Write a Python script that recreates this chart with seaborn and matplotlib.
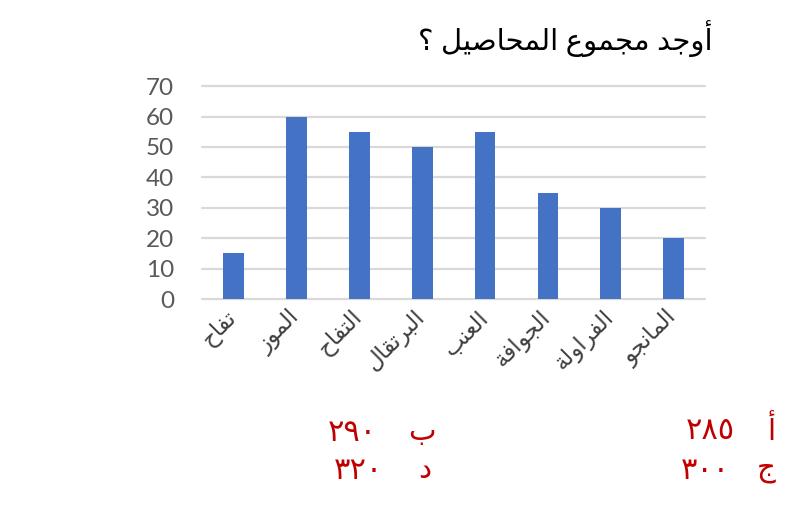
import matplotlib
matplotlib.use('Agg')
import matplotlib.pyplot as plt
import seaborn as sns
import pandas as pd

# chart data
crops = ['تفاح', 'الموز', 'التفاح', 'البرتقال', 'العنب', 'الجوافة', 'الفراولة', 'المانجو']
amounts = [15, 60, 55, 50, 55, 35, 30, 20]
y_ticks = [0, 10, 20, 30, 40, 50, 60, 70]
title = 'أوجد مجموع المحاصيل ؟'
choice_letters = ['أ', 'ب', 'ج', 'د']
choice_values = ['٢٨٥', '٢٩٠', '٣٠٠', '٣٢٠']

# matplotlib has no arabic shaping, so map letters to presentation forms
seq = 'ءآأؤإئابةتثجحخدذرزسشصضطظعغفقكلمنهوىي'
two_forms = 'آأؤإاةدذرزوى'
forms = {}
code = 0xFE80
for ch in seq:
    n = 1 if ch == 'ء' else (2 if ch in two_forms else 4)
    forms[ch] = (code, n)
    code += n
lam_alef = {'آ': 0xFEF5, 'أ': 0xFEF7, 'إ': 0xFEF9, 'ا': 0xFEFB}


def shape(text):
    out = []
    i = 0
    while i < len(text):
        c = text[i]
        if c not in forms:
            out.append(c)
            i += 1
            continue
        prev = text[i - 1] if i > 0 else ''
        joins_prev = prev in forms and forms[prev][1] == 4
        nxt = text[i + 1] if i + 1 < len(text) else ''
        if c == 'ل' and nxt in lam_alef:
            out.append(chr(lam_alef[nxt] + (1 if joins_prev else 0)))
            i += 2
            continue
        base, n = forms[c]
        joins_next = n == 4 and nxt in forms
        if n == 1:
            f = 0
        elif joins_prev and joins_next:
            f = 3
        elif joins_prev:
            f = 1
        elif joins_next:
            f = 2
        else:
            f = 0
        out.append(chr(base + f))
        i += 1
    return ''.join(out)[::-1]


df = pd.DataFrame({'crop': crops, 'amount': amounts})

sns.set_theme(style='white')
plt.rcParams['font.family'] = ['Lato', 'DejaVu Sans']

fig = plt.figure(figsize=(8.05, 5.27), dpi=100)
ax = fig.add_axes([0.251, 0.4326, 0.625, 0.404])
sns.barplot(data=df, x='crop', y='amount', color='#4472C4', saturation=1,
            width=0.33, linewidth=0, ax=ax)

ax.set_ylim(0, 70)
ax.set_yticks(y_ticks)
ax.yaxis.grid(True, color='#d9d9d9', linewidth=1.6)
for gl in ax.get_ygridlines():
    gl.set_clip_on(False)
ax.set_axisbelow(True)
for s in ax.spines.values():
    s.set_visible(False)
ax.set_xlabel('')
ax.set_ylabel('')
ax.tick_params(axis='y', length=0, labelsize=17.5, labelcolor='#595959', pad=20)
ax.tick_params(axis='x', length=0, pad=11)
ax.set_xticks(range(len(crops)))
ax.set_xticklabels([shape(c) for c in crops], rotation=45, ha='right',
                   va='center', rotation_mode='anchor', fontsize=16.5,
                   color='#404040')

fig.text(0.702, 0.927, shape(title), ha='center', va='center', fontsize=21,
         color='black')

# answer choices, right-to-left layout: letter then value
letter_pos = [(771, 430), (422, 432), (766, 470), (425, 470)]
value_pos = [(710, 430), (352, 432), (705, 470), (358, 470)]
for letter, value, lp, vp in zip(choice_letters, choice_values, letter_pos, value_pos):
    fig.text(lp[0] / 805, 1 - lp[1] / 527, shape(letter), ha='center',
             va='center', fontsize=21, color='#C00000')
    fig.text(vp[0] / 805, 1 - vp[1] / 527, value, ha='center',
             va='center', fontsize=22, color='#C00000')

fig.savefig('out.png', dpi=100)
